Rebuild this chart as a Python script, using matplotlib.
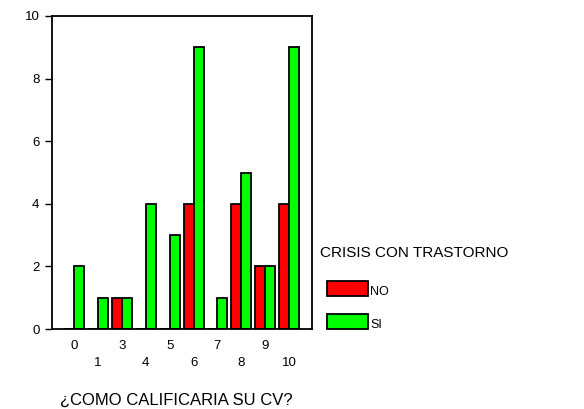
import matplotlib
matplotlib.use('Agg')
import matplotlib.pyplot as plt
import numpy as np
from matplotlib.patches import Rectangle

# calificacion del CV y numero de casos por grupo
categorias = ['0', '1', '3', '4', '5', '6', '7', '8', '9', '10']
casos_no = [0, 0, 1, 0, 0, 4, 0, 4, 2, 4]
casos_si = [2, 1, 1, 4, 3, 9, 1, 5, 2, 9]
grupos = ['NO', 'SI']
colores = ['#ff0000', '#00ff00']

plt.rcParams['font.family'] = ['Liberation Sans', 'DejaVu Sans']

fig = plt.figure(figsize=(5.84, 4.09), dpi=100)
ax = fig.add_axes([52 / 584, 1 - 329 / 409, 260 / 584, 313 / 409])

x = np.arange(len(categorias))
ancho = 0.42
ax.bar(x - ancho / 2, casos_no, ancho, color=colores[0], edgecolor='black', linewidth=1.3)
ax.bar(x + ancho / 2, casos_si, ancho, color=colores[1], edgecolor='black', linewidth=1.3)

ax.set_xlim(-0.93, len(categorias) - 1 + 0.96)
ax.set_ylim(0, 10)
ax.set_yticks([0, 2, 4, 6, 8, 10])
ax.tick_params(axis='y', length=5, width=1, labelsize=9.5, pad=4)

# etiquetas del eje x en dos filas alternadas
ax.set_xticks(x[::2])
ax.set_xticklabels(categorias[::2])
ax.set_xticks(x[1::2], minor=True)
ax.set_xticklabels(categorias[1::2], minor=True)
ax.tick_params(axis='x', which='major', length=0, labelsize=9.5, pad=8)
ax.tick_params(axis='x', which='minor', length=0, labelsize=9.5, pad=20)

for s in ax.spines.values():
    s.set_linewidth(1.3)

ax.set_xlabel('¿COMO CALIFICARIA SU CV?', fontsize=12, va='center')
ax.xaxis.set_label_coords(0.48, -0.228)

# leyenda dibujada a mano a la derecha del grafico
fig.text(320 / 584, 1 - 253 / 409, 'CRISIS CON TRASTORNO', fontsize=11, va='center', ha='left')
for i, (g, c) in enumerate(zip(grupos, colores)):
    y0 = 1 - (296 + i * 33) / 409
    fig.patches.append(Rectangle((327 / 584, y0), 41 / 584, 15 / 409, transform=fig.transFigure,
                                 facecolor=c, edgecolor='black', linewidth=1.3))
    fig.text(370 / 584, y0 + 4 / 409, g, fontsize=9, va='center', ha='left')

plt.savefig('out.png', dpi=100)
